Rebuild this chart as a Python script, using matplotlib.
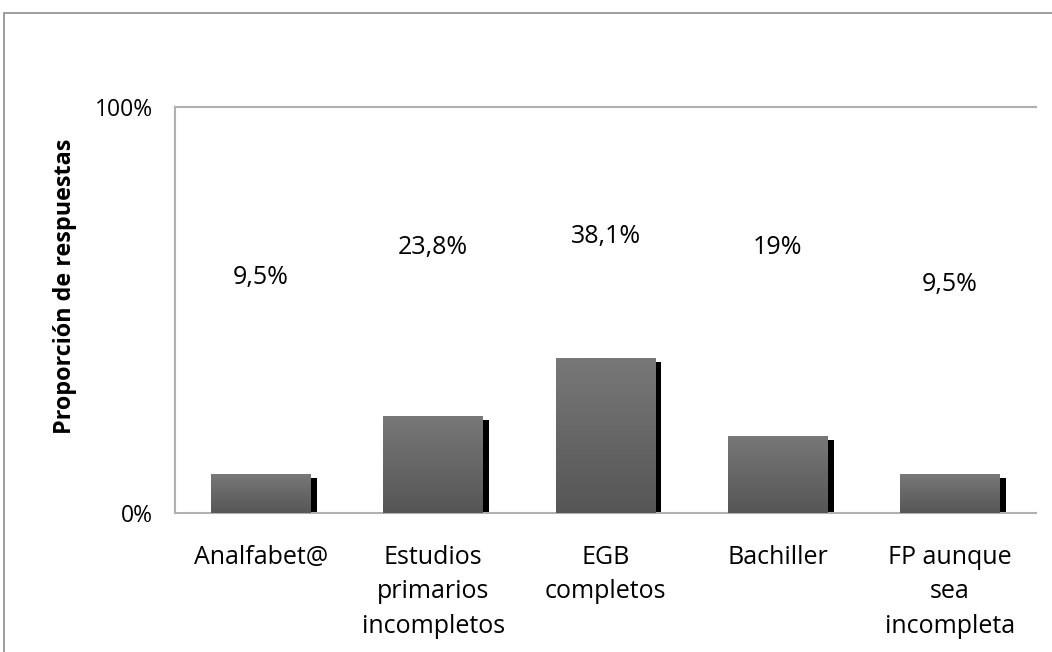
import numpy as np
import matplotlib.pyplot as plt
import matplotlib.patheffects as pe
from matplotlib.patches import Rectangle
from matplotlib.colors import LinearSegmentedColormap

categorias = ['Analfabet@', 'Estudios\nprimarios\nincompletos', 'EGB\ncompletos',
              'Bachiller', 'FP aunque\nsea\nincompleta']
valores = [9.5, 23.8, 38.1, 19.0, 9.5]
etiquetas = ['9,5%', '23,8%', '38,1%', '19%', '9,5%']
# altura (en %) donde aparece cada etiqueta en el original
alturaEtiquetas = [58.1, 65.5, 68.0, 65.5, 56.2]

plt.rcParams['font.family'] = ['Open Sans', 'DejaVu Sans']

fig = plt.figure(figsize=(10.52, 6.52), dpi=100)
fig.patches.append(Rectangle((4 / 1052, -0.1), 1.2, 1 - 13 / 652 + 0.1,
                             transform=fig.transFigure, fill=False,
                             edgecolor='#8c8c8c', linewidth=1.2))

ax = fig.add_axes([175 / 1052, 139 / 652, 861 / 1052, 406 / 652])
x = np.arange(len(categorias))

barras = ax.bar(x, valores, width=0.58, color='#666666', zorder=2,
                path_effects=[pe.SimplePatchShadow(offset=(4.3, -2.9), shadow_rgbFace='black', alpha=1.0),
                              pe.Normal()])

# degradado gris en cada barra (mas claro arriba)
cmapBarra = LinearSegmentedColormap.from_list('barra', ['#565656', '#787878'])
gradiente = np.linspace(0, 1, 100).reshape(-1, 1)
for barra in barras:
    x0, y0 = barra.get_x(), barra.get_y()
    im = ax.imshow(gradiente, cmap=cmapBarra, vmin=0, vmax=1, aspect='auto',
                   extent=(x0, x0 + barra.get_width(), y0, y0 + barra.get_height()),
                   origin='lower', zorder=3)
    im.set_clip_path(barra)

for xi, texto, h in zip(x, etiquetas, alturaEtiquetas):
    ax.text(xi, h, texto, ha='center', va='center', fontsize=18, color='black')

ax.set_xlim(-0.5, len(categorias) - 0.5)
ax.set_ylim(0, 100)
ax.set_yticks([0, 100])
ax.set_yticklabels(['0%', '100%'], fontsize=16.5)
ax.set_xticks(x)
ax.set_xticklabels(categorias, fontsize=18, linespacing=1.5, va='top')
ax.tick_params(axis='both', length=0)
ax.tick_params(axis='x', pad=23)
ax.tick_params(axis='y', pad=16)
ax.set_ylabel('Proporción de respuestas', fontsize=16.8, fontweight='bold')
ax.yaxis.set_label_coords(-0.114, 0.558)

for lado in ['top', 'left', 'bottom']:
    ax.spines[lado].set_color('#b0b0b0')
    ax.spines[lado].set_linewidth(1.5)
ax.spines['right'].set_visible(False)

plt.savefig('out.png', dpi=100)
